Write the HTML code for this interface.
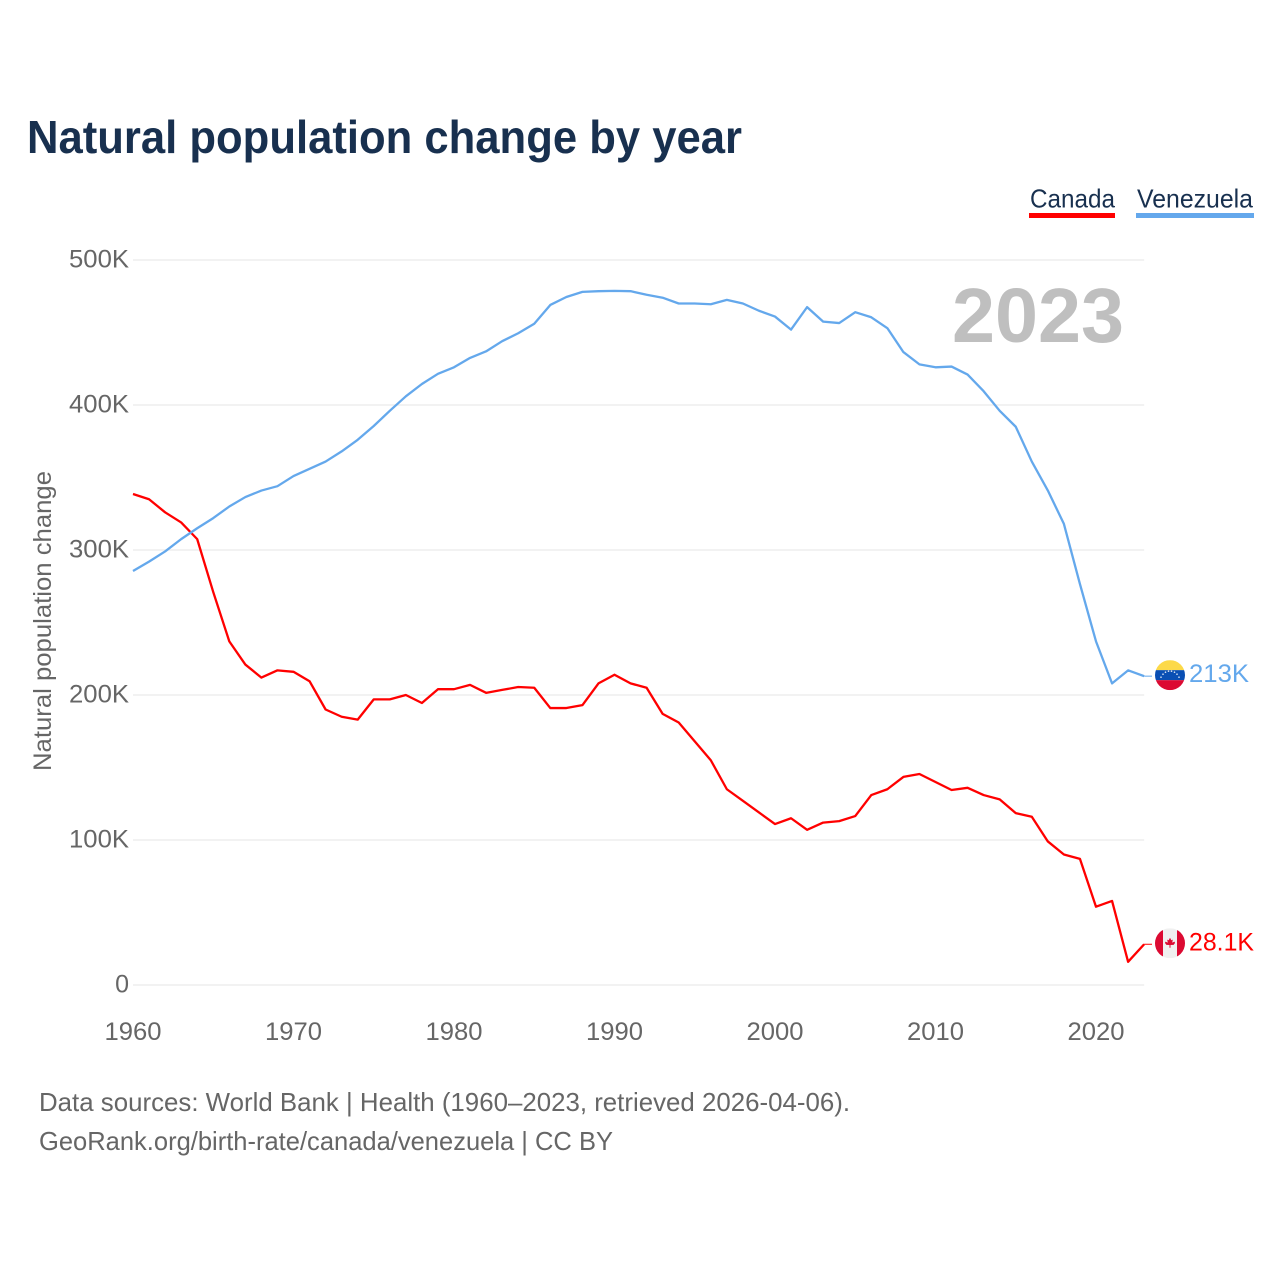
<!DOCTYPE html>
<html lang="en">
<head>
<meta charset="utf-8">
<title>Natural population change by year</title>
<style>
html,body{margin:0;padding:0;background:#fff;}
svg{display:block;font-family:"Liberation Sans",sans-serif;}
</style>
</head>
<body>
<svg id="chart" xmlns="http://www.w3.org/2000/svg" width="1280" height="1280" viewBox="0 0 1280 1280">
  <defs>
    <clipPath id="flag-clip-ve"><circle id="clip-ve" r="15"/></clipPath>
    <clipPath id="flag-clip-ca"><circle id="clip-ca" r="15"/></clipPath>
  </defs>
  <rect x="0" y="0" width="1280" height="1280" fill="#fff"/>
  <text x="27" y="153" font-size="46" font-weight="700" fill="#18304f" textLength="715" lengthAdjust="spacingAndGlyphs">Natural population change by year</text>

  <g>
    <text x="1030" y="207.5" font-size="26" fill="#18304f" textLength="85" lengthAdjust="spacingAndGlyphs">Canada</text>
    <rect x="1029" y="213" width="86" height="5" fill="#ff0000"/>
  </g>
  <g>
    <text x="1137" y="207.5" font-size="26" fill="#18304f" textLength="116" lengthAdjust="spacingAndGlyphs">Venezuela</text>
    <rect x="1136" y="213" width="118" height="5" fill="#64a8ec"/>
  </g>

  <g id="grid"></g>
  <g id="y-ticks"></g>
  <g id="x-ticks"></g>

  <text transform="translate(51,621) rotate(-90)" text-anchor="middle" font-size="25" fill="#666" textLength="300" lengthAdjust="spacingAndGlyphs">Natural population change</text>

  <text x="952" y="342" font-size="77" font-weight="700" fill="#bfbfbf" textLength="172" lengthAdjust="spacingAndGlyphs">2023</text>

  <g id="series"></g>

  <g id="flag-ve">
    <g clip-path="url(#flag-clip-ve)">
      <rect x="-15" y="-15" width="30" height="10" fill="#fcd949"/>
      <rect x="-15" y="-5" width="30" height="10" fill="#0a4fb4"/>
      <rect x="-15" y="5" width="30" height="10" fill="#dc0a32"/>
      <g fill="#dfe8f5">
        <circle cx="-9" cy="2" r=".8"/><circle cx="-7" cy="-1" r=".8"/><circle cx="-4.5" cy="-3" r=".8"/><circle cx="-1.5" cy="-4" r=".8"/><circle cx="1.5" cy="-4" r=".8"/><circle cx="4.5" cy="-3" r=".8"/><circle cx="7" cy="-1" r=".8"/><circle cx="9" cy="2" r=".8"/>
      </g>
    </g>
  </g>
  <g id="flag-ca">
    <g clip-path="url(#flag-clip-ca)">
      <rect x="-15" y="-15" width="30" height="30" fill="#f0f0f0"/>
      <rect x="-15" y="-15" width="8" height="30" fill="#dc0a32"/>
      <rect x="7" y="-15" width="8" height="30" fill="#dc0a32"/>
      <path d="M0,-5.5 L1.3,-3 L2.8,-3.6 L2.2,-0.6 L4.6,-1.6 L5,-0.2 L3.6,1.6 L0.5,1.8 L0.5,4.5 L-0.5,4.5 L-0.5,1.8 L-3.6,1.6 L-5,-0.2 L-4.6,-1.6 L-2.2,-0.6 L-2.8,-3.6 L-1.3,-3 Z" fill="#dc0a32"/>
    </g>
  </g>
  <text id="label-ve" x="1189" font-size="25" fill="#64a8ec" textLength="60" lengthAdjust="spacingAndGlyphs"></text>
  <text id="label-ca" x="1189" font-size="25" fill="#ff0000" textLength="65" lengthAdjust="spacingAndGlyphs"></text>

  <text x="39" y="1111" font-size="26" fill="#666" textLength="811" lengthAdjust="spacingAndGlyphs">Data sources: World Bank | Health (1960–2023, retrieved 2026-04-06).</text>
  <text x="39" y="1150" font-size="26" fill="#666" textLength="574" lengthAdjust="spacingAndGlyphs">GeoRank.org/birth-rate/canada/venezuela | CC BY</text>
</svg>
<script>
const startYear = 1960;
const yTickValues = [0, 100, 200, 300, 400, 500];
const yTickLabels = ["0", "100K", "200K", "300K", "400K", "500K"];
const xTickYears = [1960, 1970, 1980, 1990, 2000, 2010, 2020];
const canadaValues = [338.6,335,326,319,307.5,271,237,221,212,217,216,209.5,190,185,183,197,197,200,194.5,204,204,207,201.5,203.5,205.5,205,191,191,193,208,214,208,205,187,181,168,155,135,127,119,111,115,107,112,113,116.5,131,135,143.5,145.5,140,134.5,136,131,128,118.5,116,99,90,87,54,58,16,28.1];
const venezuelaValues = [285.5,292,299,307.5,315,322,330,336.5,341,344,351,356,361,368,376,385.5,396,406,414.5,421.5,426,432.5,437,444,449.5,456,469,474.5,478,478.5,478.7,478.5,476,474,470,470,469.5,472.5,470,465,461,452,467.5,457.5,456.5,464,460.5,453,436.5,428,426,426.5,421,409.5,396,385,361,341,318,276.5,237,208,217,213];
const canadaEndLabel = "28.1K";
const venezuelaEndLabel = "213K";

const NS = "http://www.w3.org/2000/svg";
const xScale = function (year) { return 133 + (year - 1960) * 16.05; };
const yScale = function (value) { return 985 - value * 1.45; };

const grid = document.getElementById("grid");
const yTicks = document.getElementById("y-ticks");
const xTicks = document.getElementById("x-ticks");
const seriesGroup = document.getElementById("series");
const endYear = startYear + canadaValues.length - 1;

yTickValues.forEach(function (v, i) {
  const line = document.createElementNS(NS, "line");
  
  
  line.setAttribute("x1", 133);
  line.setAttribute("x2", xScale(endYear));
  line.setAttribute("y1", yScale(v));
  line.setAttribute("y2", yScale(v));
  line.setAttribute("stroke", "#e9e9e9");
  line.setAttribute("stroke-width", "1.3");
  grid.appendChild(line);

  const t = document.createElementNS(NS, "text");
  
  
  t.setAttribute("x", 129);
  t.setAttribute("y", yScale(v) + 7.5);
  t.setAttribute("text-anchor", "end");
  t.setAttribute("font-size", "25");
  t.setAttribute("fill", "#666");
  t.textContent = yTickLabels[i];
  if (yTickLabels[i].length > 1) {
    t.setAttribute("textLength", "60");
    t.setAttribute("lengthAdjust", "spacingAndGlyphs");
  }
  yTicks.appendChild(t);
});

xTickYears.forEach(function (year) {
  const t = document.createElementNS(NS, "text");
  
  
  t.setAttribute("x", xScale(year));
  t.setAttribute("y", 1040);
  t.setAttribute("text-anchor", "middle");
  t.setAttribute("font-size", "25");
  t.setAttribute("fill", "#666");
  t.setAttribute("textLength", "57");
  t.setAttribute("lengthAdjust", "spacingAndGlyphs");
  t.textContent = year;
  xTicks.appendChild(t);
});

function drawSeries(values, color, lineName, connectorName) {
  const d = values.map(function (v, i) {
    return (i ? "L" : "M") + xScale(startYear + i).toFixed(2) + "," + yScale(v).toFixed(2);
  }).join(" ");
  const path = document.createElementNS(NS, "path");
  
  
  path.setAttribute("d", d);
  path.setAttribute("fill", "none");
  path.setAttribute("stroke", color);
  path.setAttribute("stroke-width", "2.3");
  path.setAttribute("stroke-linejoin", "round");
  seriesGroup.appendChild(path);

  const endY = yScale(values[values.length - 1]);
  const connector = document.createElementNS(NS, "line");
  
  
  connector.setAttribute("x1", xScale(endYear));
  connector.setAttribute("x2", 1152);
  connector.setAttribute("y1", endY);
  connector.setAttribute("y2", endY);
  connector.setAttribute("stroke", color);
  connector.setAttribute("stroke-width", "1");
  seriesGroup.appendChild(connector);
  return endY;
}

const caEnd = drawSeries(canadaValues, "#ff0000", "canada-line", "canada-connector");
const veEnd = drawSeries(venezuelaValues, "#64a8ec", "venezuela-line", "venezuela-connector");

document.getElementById("flag-ve").setAttribute("transform", "translate(1170," + (veEnd - 1) + ")");
document.getElementById("flag-ca").setAttribute("transform", "translate(1170," + (caEnd - 1) + ")");
const labelVe = document.getElementById("label-ve");
labelVe.setAttribute("y", veEnd + 6);
labelVe.textContent = venezuelaEndLabel;
const labelCa = document.getElementById("label-ca");
labelCa.setAttribute("y", caEnd + 6);
labelCa.textContent = canadaEndLabel;
</script>
</body>
</html>
